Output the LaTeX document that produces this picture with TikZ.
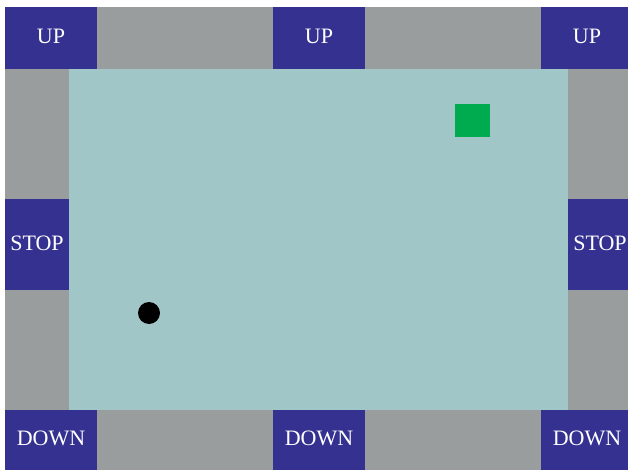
\documentclass[tikz,border=0pt]{standalone}
\usepackage{fontspec}
\setmainfont{Liberation Serif}
\definecolor{btnblue}{RGB}{53,49,145}
\definecolor{railgray}{RGB}{154,157,157}
\definecolor{fieldcol}{RGB}{161,198,200}
\definecolor{goalgreen}{RGB}{0,170,79}
\begin{document}
\begin{tikzpicture}[x=1pt,y=-1pt,
  btn/.style={fill=btnblue,inner sep=0pt},
  lbl/.style={text=white,inner sep=0pt,font=\fontsize{22}{24}\selectfont},
]
\useasboundingbox (0,0) rectangle (628,470);
\begin{scope}
\clip (0,0) rectangle (628,470);
\fill[railgray] (5,7) rectangle (628,470);
\fill[fieldcol] (69,69) rectangle (568,410);
% top buttons
\node[btn,minimum width=92pt,minimum height=62pt] (upl) at (51,38) {};
\node[btn,minimum width=92pt,minimum height=62pt] (upm) at (319,38) {};
\node[btn,minimum width=92pt,minimum height=62pt] (upr) at (587,38) {};
% side buttons
\node[btn,minimum width=64pt,minimum height=91pt] (stopl) at (37,244.5) {};
\node[btn,minimum width=64pt,minimum height=91pt] (stopr) at (600,244.5) {};
% bottom buttons
\node[btn,minimum width=92pt,minimum height=60pt] (downl) at (51,440) {};
\node[btn,minimum width=92pt,minimum height=60pt] (downm) at (319,440) {};
\node[btn,minimum width=92pt,minimum height=60pt] (downr) at (587,440) {};
% labels
\node[lbl] at ([yshift=2pt]upl.center) {UP};
\node[lbl] at ([yshift=2pt]upm.center) {UP};
\node[lbl] at ([yshift=2pt]upr.center) {UP};
\node[lbl] at ([yshift=1pt]stopl.center) {STOP};
\node[lbl] at ([yshift=1pt]stopr.center) {STOP};
\node[lbl] at ([yshift=2pt]downl.center) {DOWN};
\node[lbl] at ([yshift=2pt]downm.center) {DOWN};
\node[lbl] at ([yshift=2pt]downr.center) {DOWN};
% goal and ball
\node[fill=goalgreen,minimum width=35pt,minimum height=33pt,inner sep=0pt] (goal) at (472.5,120.5) {};
\node[fill=black,circle,minimum size=22pt,inner sep=0pt] (ball) at (149,313) {};
\end{scope}
\end{tikzpicture}
\end{document}
